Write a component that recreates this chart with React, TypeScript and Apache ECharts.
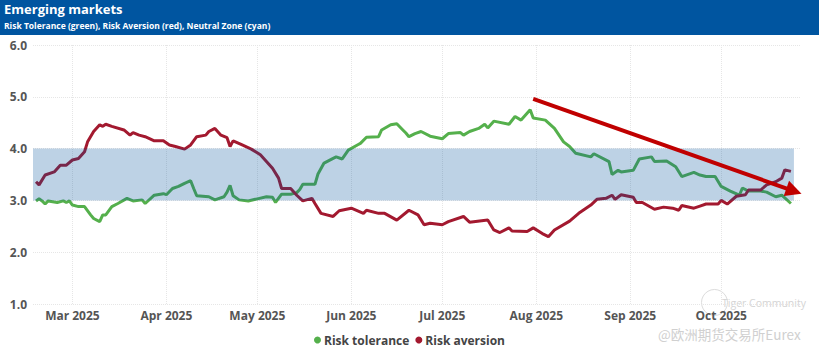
import React, { useEffect, useRef } from "react";
import * as echarts from "echarts";

const toleranceDates = [
  "2025-02-17","2025-02-18","2025-02-19","2025-02-20","2025-02-21","2025-02-24","2025-02-26","2025-02-27","2025-02-28",
  "2025-03-01","2025-03-03","2025-03-05","2025-03-07","2025-03-08","2025-03-10","2025-03-11","2025-03-12","2025-03-14",
  "2025-03-16","2025-03-19","2025-03-21","2025-03-24","2025-03-25","2025-03-28","2025-03-31",
  "2025-04-01","2025-04-03","2025-04-05","2025-04-07","2025-04-09","2025-04-10","2025-04-11","2025-04-15","2025-04-17",
  "2025-04-20","2025-04-21","2025-04-22","2025-04-23","2025-04-25","2025-04-28",
  "2025-05-01","2025-05-04","2025-05-06","2025-05-07","2025-05-09","2025-05-12","2025-05-14","2025-05-15","2025-05-16",
  "2025-05-20","2025-05-21","2025-05-23","2025-05-26","2025-05-27","2025-05-29","2025-05-31",
  "2025-06-03","2025-06-04","2025-06-06","2025-06-10","2025-06-11","2025-06-14","2025-06-16","2025-06-18","2025-06-19",
  "2025-06-20","2025-06-22","2025-06-24","2025-06-27",
  "2025-07-01","2025-07-03","2025-07-07","2025-07-08","2025-07-10","2025-07-13","2025-07-15","2025-07-16","2025-07-18",
  "2025-07-23","2025-07-25","2025-07-27","2025-07-30","2025-07-31",
  "2025-08-04","2025-08-07","2025-08-10","2025-08-12","2025-08-14","2025-08-19","2025-08-20","2025-08-25","2025-08-26",
  "2025-08-28","2025-08-29",
  "2025-09-02","2025-09-04","2025-09-08","2025-09-09","2025-09-13","2025-09-16","2025-09-18","2025-09-22","2025-09-24",
  "2025-09-26","2025-09-29",
  "2025-10-01","2025-10-04","2025-10-07","2025-10-08","2025-10-10","2025-10-14","2025-10-16","2025-10-19","2025-10-21",
  "2025-10-24",
];
const toleranceValues = [
  2.99,3.03,2.99,2.93,2.99,2.96,2.99,2.96,2.99,
  2.91,2.88,2.88,2.72,2.65,2.59,2.72,2.72,2.88,
  2.94,3.04,2.99,3.01,2.94,3.10,3.13,
  3.11,3.23,3.27,3.33,3.38,3.23,3.09,3.07,3.01,
  3.07,3.16,3.29,3.09,3.01,2.99,
  3.03,3.07,3.06,2.96,3.12,3.12,3.15,3.21,3.31,
  3.31,3.51,3.72,3.81,3.84,3.80,3.97,
  4.07,4.10,4.22,4.23,4.36,4.46,4.48,4.36,4.30,
  4.23,4.29,4.33,4.24,
  4.19,4.29,4.31,4.26,4.33,4.39,4.47,4.40,4.53,
  4.47,4.62,4.55,4.75,4.59,
  4.55,4.39,4.13,4.04,3.91,3.84,3.90,3.75,3.50,
  3.58,3.55,
  3.58,3.80,3.84,3.75,3.76,3.65,3.46,3.54,3.49,
  3.46,3.46,
  3.27,3.18,3.10,3.24,3.18,3.18,3.16,3.07,3.10,
  2.94,
];

const aversionDates = [
  "2025-02-17","2025-02-18","2025-02-20","2025-02-23","2025-02-25","2025-02-27",
  "2025-03-01","2025-03-03","2025-03-05","2025-03-06","2025-03-08","2025-03-10","2025-03-11","2025-03-12","2025-03-14",
  "2025-03-18","2025-03-20","2025-03-21","2025-03-23","2025-03-25","2025-03-28","2025-03-31",
  "2025-04-02","2025-04-04","2025-04-07","2025-04-09","2025-04-11","2025-04-14","2025-04-15","2025-04-17","2025-04-19",
  "2025-04-21","2025-04-22","2025-04-23","2025-04-26","2025-04-29",
  "2025-05-02","2025-05-04","2025-05-06","2025-05-08","2025-05-09","2025-05-12","2025-05-14","2025-05-16","2025-05-19",
  "2025-05-20","2025-05-22","2025-05-26","2025-05-28",
  "2025-06-01","2025-06-05","2025-06-06","2025-06-10","2025-06-12","2025-06-16","2025-06-20","2025-06-23","2025-06-25",
  "2025-06-27",
  "2025-07-01","2025-07-03","2025-07-08","2025-07-10","2025-07-16","2025-07-18","2025-07-20","2025-07-23","2025-07-24",
  "2025-07-29","2025-07-31",
  "2025-08-03","2025-08-05","2025-08-07","2025-08-12","2025-08-15","2025-08-19","2025-08-21","2025-08-24","2025-08-26",
  "2025-08-27","2025-08-29",
  "2025-09-02","2025-09-03","2025-09-05","2025-09-09","2025-09-12","2025-09-15","2025-09-17","2025-09-18","2025-09-22",
  "2025-09-24","2025-09-26","2025-09-30",
  "2025-10-01","2025-10-03","2025-10-06","2025-10-09","2025-10-10","2025-10-14","2025-10-16","2025-10-19","2025-10-21",
  "2025-10-22","2025-10-24",
];
const aversionValues = [
  3.36,3.30,3.49,3.55,3.68,3.68,
  3.78,3.81,3.94,4.13,4.33,4.46,4.43,4.47,4.43,
  4.36,4.26,4.31,4.26,4.23,4.15,4.15,
  4.07,4.04,3.99,4.07,4.23,4.26,4.33,4.39,4.26,
  4.21,4.04,4.15,4.07,3.99,
  3.88,3.75,3.62,3.43,3.23,3.23,3.10,2.99,3.04,
  2.94,2.75,2.69,2.80,
  2.85,2.75,2.81,2.75,2.75,2.62,2.81,2.72,2.53,
  2.56,
  2.53,2.59,2.69,2.58,2.62,2.43,2.38,2.47,2.41,
  2.40,2.47,
  2.36,2.30,2.43,2.60,2.75,2.91,3.02,3.04,3.10,
  3.02,3.11,
  3.06,2.96,2.96,2.83,2.87,2.85,2.81,2.90,2.85,
  2.89,2.93,2.93,
  3.00,2.93,3.08,3.11,3.20,3.20,3.30,3.36,3.43,
  3.59,3.56,
];

const neutralZone = [3, 4];
const axisStart = "2025-02-16";
const axisEnd = "2025-10-27";
const bandEnd = "2025-10-25";
const arrowFrom: [string, number] = ["2025-07-31", 4.96];
const arrowTo: [string, number] = ["2025-10-25", 3.18];
const yTicks = { min: 1, max: 6, interval: 1 };
const monthNames = ["Jan","Feb","Mar","Apr","May","Jun","Jul","Aug","Sep","Oct","Nov","Dec"];

const FONT = "'Open Sans', 'Noto Sans', sans-serif";
const GREEN = "#55b04c";
const RED = "#a3192f";

export default function App() {
  const ref = useRef<HTMLDivElement>(null);
  useEffect(() => {
    document.body.style.margin = "0";
    const chart = echarts.init(ref.current!, null, { renderer: "svg" });
    const tol = toleranceDates.map((d, i) => [d, toleranceValues[i]]);
    const ave = aversionDates.map((d, i) => [d, aversionValues[i]]);
    chart.setOption({
      animation: false,
      textStyle: { fontFamily: FONT },
      graphic: [
        { type: "rect", left: 0, top: 0, z: 0, shape: { width: 819, height: 35 }, style: { fill: "#0055a0" } },
        { type: "text", left: 4, top: 2, z: 1, style: { text: "Emerging markets", fill: "#fff", font: `bold 13px ${FONT}` } },
        { type: "text", left: 4, top: 21, z: 1, style: { text: "Risk Tolerance (green), Risk Aversion (red), Neutral Zone (cyan)", fill: "#fff", font: `bold 8.5px ${FONT}` } },
        { type: "circle", left: 699, top: 287, z: 0, shape: { r: 13 }, style: { fill: "none", stroke: "#dcdcdc", lineWidth: 1 } },
        { type: "text", left: 722, top: 297, z: 0, style: { text: "Tiger Community", fill: "#d4d4d4", font: `10.5px ${FONT}` } },
        { type: "text", left: 658, top: 327, z: 0, style: { text: "@欧洲期货交易所Eurex", fill: "#d0d0d0", font: `13.5px 'Noto Sans CJK SC', ${FONT}` } },
      ],
      grid: { left: 33, right: 19, top: 45, bottom: 46 },
      legend: {
        left: "center",
        top: 329,
        icon: "circle",
        itemWidth: 7,
        itemHeight: 7,
        itemGap: 6,
        textStyle: { fontFamily: FONT, fontWeight: "bold", fontSize: 12, color: "#444", padding: [0, 0, 0, -2] },
        data: ["Risk tolerance", "Risk aversion"],
      },
      xAxis: {
        type: "time",
        min: axisStart,
        max: axisEnd,
        minInterval: 28 * 86400000,
        axisLine: { show: false },
        axisTick: { show: false },
        splitLine: { show: true, showMinLine: false, showMaxLine: false, lineStyle: { color: "#e6e6e6", type: "dotted" } },
        axisLabel: {
          color: "#555",
          fontWeight: "bold",
          fontSize: 12,
          margin: 5,
          formatter: (v: number) => {
            const d = new Date(v);
            return `${monthNames[d.getMonth()]} ${d.getFullYear()}`;
          },
        },
      },
      yAxis: {
        type: "value",
        ...yTicks,
        axisLine: { show: false },
        axisTick: { show: false },
        splitLine: { show: true, lineStyle: { color: "#e6e6e6", type: "dotted" } },
        axisLabel: { color: "#555", fontWeight: "bold", fontSize: 12, margin: 6, formatter: (v: number) => v.toFixed(1) },
      },
      series: [
        {
          name: "Risk tolerance",
          type: "line",
          data: tol,
          showSymbol: false,
          symbol: "circle",
          z: 2,
          lineStyle: { color: GREEN, width: 3 },
          itemStyle: { color: GREEN },
        },
        {
          name: "Risk aversion",
          type: "line",
          data: ave,
          showSymbol: false,
          symbol: "circle",
          z: 2,
          lineStyle: { color: RED, width: 3 },
          itemStyle: { color: RED },
        },
        {
          name: "Neutral zone",
          type: "line",
          data: [],
          z: 5,
          markArea: {
            silent: true,
            z: 5,
            itemStyle: { color: "rgba(0, 80, 155, 0.26)" },
            data: [[{ xAxis: axisStart, yAxis: neutralZone[0] }, { xAxis: bandEnd, yAxis: neutralZone[1] }]],
          },
          markLine: {
            silent: true,
            z: 6,
            symbol: ["none", "triangle"],
            symbolSize: [16, 16],
            label: { show: false },
            lineStyle: { color: "#c00000", width: 4, type: "solid" },
            data: [[{ coord: arrowFrom }, { coord: arrowTo }]],
          },
        },
      ],
    });
    return () => chart.dispose();
  }, []);
  return <div ref={ref} style={{ width: 819, height: 350 }} />;
}
